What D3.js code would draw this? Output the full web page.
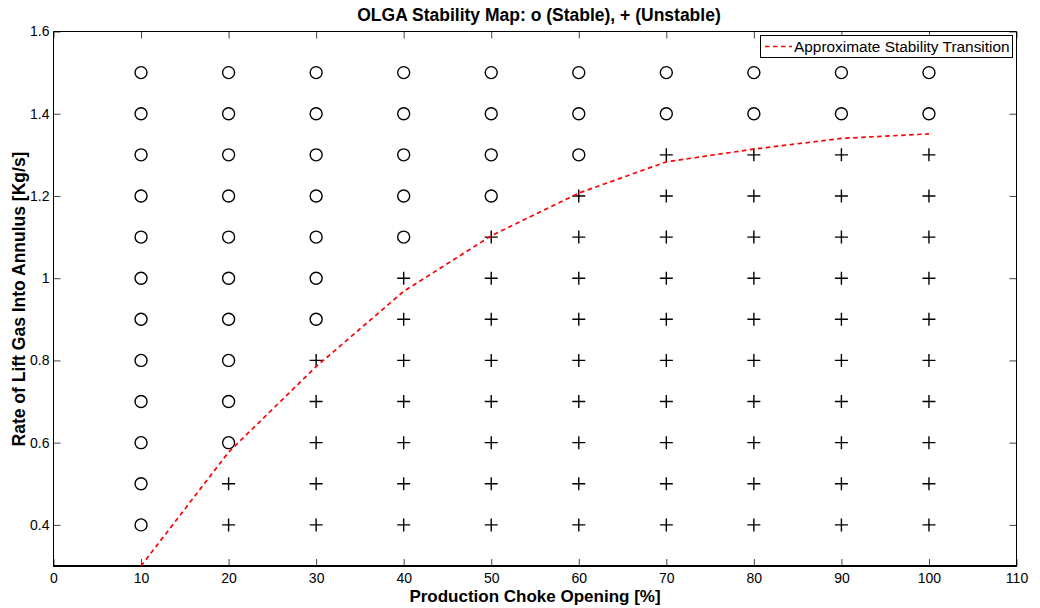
<!DOCTYPE html>
<html>
<head>
<meta charset="utf-8">
<script src="https://cdn.jsdelivr.net/npm/d3@7"></script>
<style>
  html, body { margin: 0; padding: 0; background: #fff; }
  svg { display: block; font-family: "Liberation Sans", Arial, Helvetica, sans-serif; }
</style>
</head>
<body>
<svg id="chart" width="1040" height="608"></svg>
<script>
// Production choke openings tested [%]
const chokeOpenings = [10, 20, 30, 40, 50, 60, 70, 80, 90, 100];
// Lift gas rates tested [kg/s]
const gasRates = [0.4, 0.5, 0.6, 0.7, 0.8, 0.9, 1.0, 1.1, 1.2, 1.3, 1.4, 1.5];
// Lowest gas rate that gave a stable run, for each choke opening
const minStableRate = [0.4, 0.6, 0.9, 1.1, 1.2, 1.3, 1.4, 1.4, 1.4, 1.4];
// Approximate stability transition curve
const transitionX = [10, 20, 30, 40, 50, 60, 70, 80, 90, 100];
const transitionY = [0.30, 0.577, 0.785, 0.968, 1.103, 1.207, 1.283, 1.314, 1.340, 1.351];
// Axis ticks
const xTicks = [0, 10, 20, 30, 40, 50, 60, 70, 80, 90, 100, 110];
const yTicks = [0.4, 0.6, 0.8, 1.0, 1.2, 1.4, 1.6];

const svg = d3.select("#chart");
const m = { left: 53.5, top: 31.5, right: 1016.5, bottom: 566 };

const x = d3.scaleLinear().domain([0, 110]).range([m.left, m.right]);
const y = d3.scaleLinear().domain([0.3, 1.6]).range([m.bottom, m.top]);

// Build the grid of runs
const runs = [];
chokeOpenings.forEach((c, i) => {
  gasRates.forEach(g => {
    runs.push({ choke: c, rate: g, stable: g >= minStableRate[i] - 1e-9 });
  });
});

const tickLen = 7;
const tickFont = 14;

// Bottom axis (ticks inward)
const xAxisB = d3.axisBottom(x).tickValues(xTicks).tickSize(-tickLen).tickPadding(7)
  .tickFormat(d3.format("d"));
const gxb = svg.append("g").attr("transform", `translate(0,${m.bottom})`).call(xAxisB);
// Top axis ticks only
const xAxisT = d3.axisTop(x).tickValues(xTicks).tickSize(-tickLen).tickFormat("");
const gxt = svg.append("g").attr("transform", `translate(0,${m.top})`).call(xAxisT);
// Left axis
const yAxisL = d3.axisLeft(y).tickValues(yTicks).tickSize(-tickLen).tickPadding(4)
  .tickFormat(d => d === 1 ? "1" : d3.format(".1f")(d));
const gyl = svg.append("g").attr("transform", `translate(${m.left},0)`).call(yAxisL);
// Right axis ticks only
const yAxisR = d3.axisRight(y).tickValues(yTicks).tickSize(-tickLen).tickFormat("");
const gyr = svg.append("g").attr("transform", `translate(${m.right},0)`).call(yAxisR);

[gxb, gxt, gyl, gyr].forEach(g => {
  g.select(".domain").remove();
  g.selectAll(".tick line").attr("stroke", "#444").attr("stroke-width", 1);
  g.selectAll(".tick text").attr("font-size", tickFont).attr("fill", "#000")
    .attr("font-family", "'Liberation Sans', Arial, sans-serif");
});

// Plot box
svg.append("line").attr("x1", m.left).attr("x2", m.right).attr("y1", m.top).attr("y2", m.top)
  .attr("stroke", "#000").attr("stroke-width", 1);
svg.append("line").attr("x1", m.left).attr("x2", m.left).attr("y1", m.top).attr("y2", m.bottom)
  .attr("stroke", "#000").attr("stroke-width", 1);
svg.append("line").attr("x1", m.right).attr("x2", m.right).attr("y1", m.top).attr("y2", m.bottom)
  .attr("stroke", "#000").attr("stroke-width", 1);
svg.append("line").attr("x1", m.left - 0.5).attr("x2", m.right + 0.5).attr("y1", m.bottom).attr("y2", m.bottom)
  .attr("stroke", "#000").attr("stroke-width", 2);

// Stable runs: open circles
svg.append("g").selectAll("circle")
  .data(runs.filter(d => d.stable))
  .join("circle")
  .attr("cx", d => x(d.choke))
  .attr("cy", d => y(d.rate))
  .attr("r", 6)
  .attr("fill", "none")
  .attr("stroke", "#000")
  .attr("stroke-width", 1.4);

// Unstable runs: plus signs
const plusSize = 6.5;
svg.append("g").selectAll("path")
  .data(runs.filter(d => !d.stable))
  .join("path")
  .attr("d", d => {
    const cx = x(d.choke), cy = y(d.rate);
    return `M${cx - plusSize},${cy}H${cx + plusSize}M${cx},${cy - plusSize}V${cy + plusSize}`;
  })
  .attr("fill", "none")
  .attr("stroke", "#000")
  .attr("stroke-width", 1.4);

// Transition curve
const transition = transitionX.map((v, i) => [v, transitionY[i]]);
svg.append("path")
  .datum(transition)
  .attr("d", d3.line().x(d => x(d[0])).y(d => y(d[1])))
  .attr("fill", "none")
  .attr("stroke", "#ff0000")
  .attr("stroke-width", 1.7)
  .attr("stroke-dasharray", "4.5,3.5");

// Legend
const lg = svg.append("g");
lg.append("rect").attr("x", 760.5).attr("y", 35.5).attr("width", 252).attr("height", 22)
  .attr("fill", "#fff").attr("stroke", "#000").attr("stroke-width", 1);
lg.append("line").attr("x1", 765).attr("x2", 792).attr("y1", 46.5).attr("y2", 46.5)
  .attr("stroke", "#ff0000").attr("stroke-width", 1.7).attr("stroke-dasharray", "4.5,3.5");
lg.append("text").attr("x", 794).attr("y", 52).attr("font-size", 15.4).attr("fill", "#000")
  .text("Approximate Stability Transition");

// Title and axis labels
svg.append("text").attr("x", (m.left + m.right) / 2 + 4).attr("y", 20.5)
  .attr("text-anchor", "middle").attr("font-size", 17.5).attr("font-weight", "bold")
  .text("OLGA Stability Map: o (Stable), + (Unstable)");
svg.append("text").attr("x", (m.left + m.right) / 2).attr("y", 601.5)
  .attr("text-anchor", "middle").attr("font-size", 17).attr("font-weight", "bold")
  .text("Production Choke Opening [%]");
svg.append("text")
  .attr("transform", `translate(25,${(153 + 445) / 2}) rotate(-90)`)
  .attr("text-anchor", "middle").attr("font-size", 17.5).attr("font-weight", "bold")
  .text("Rate of Lift Gas Into Annulus [Kg/s]");
</script>
</body>
</html>
